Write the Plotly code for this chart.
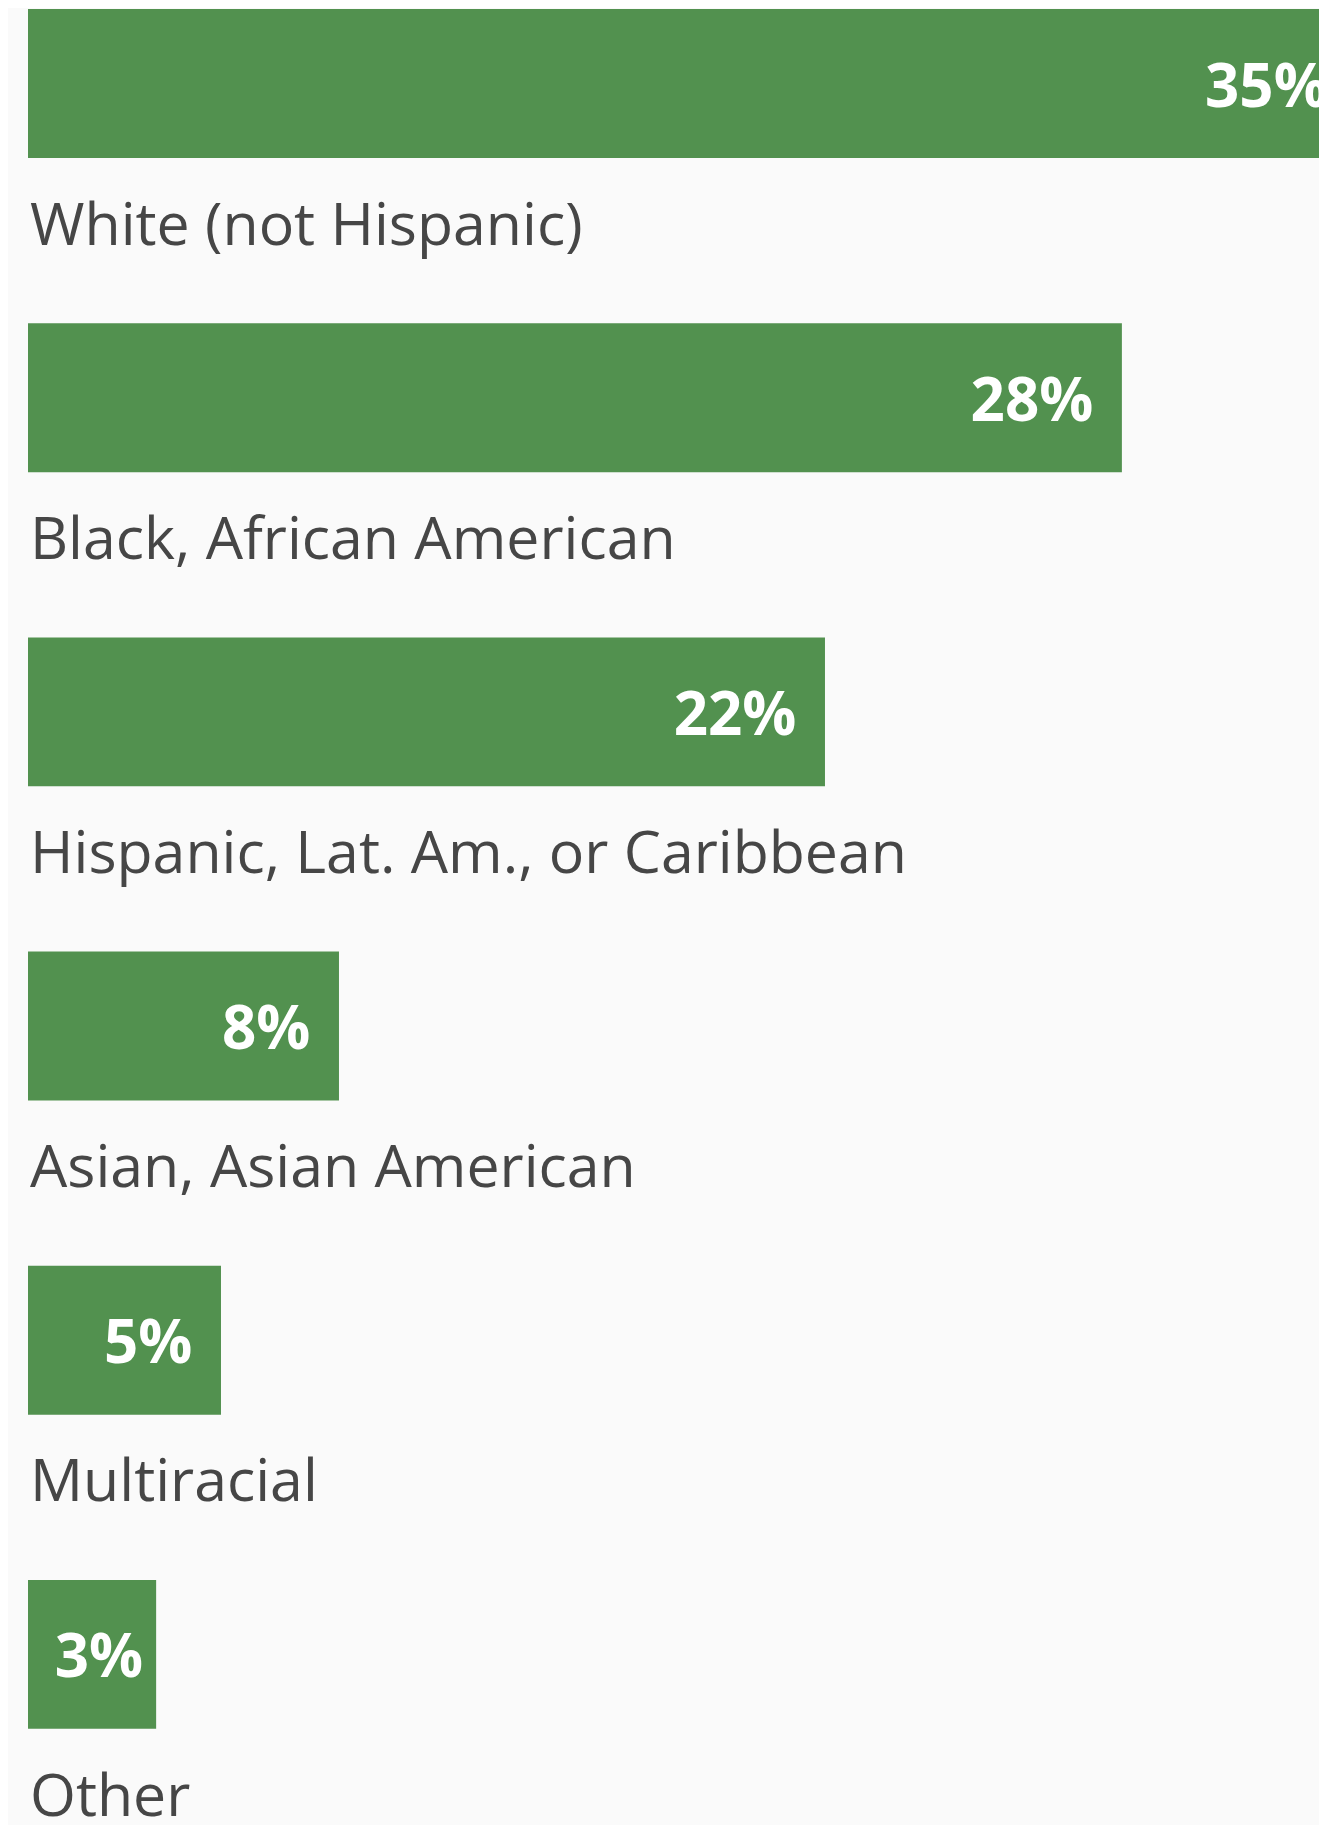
import plotly.graph_objects as go

# Data
categories = [
    "White (not Hispanic)",
    "Black, African American",
    "Hispanic, Lat. Am., or Caribbean",
    "Asian, Asian American",
    "Multiracial",
    "Other",
]
pct_labels = ["35%", "28%", "22%", "8%", "5%", "3%"]
# bar lengths as drawn in the picture (percentage units)
bar_values = [34.0, 28.0, 20.4, 7.96, 4.94, 3.28]

positions = list(range(len(categories)))

GREEN = "#52914f"
TEXT = "#464646"
BG = "#fafafa"

# label padding inside the bar end (the narrowest bar gets less room)
templates = ["%{text}\u00a0\u2006"] * (len(pct_labels) - 1) + ["%{text}\u2006"]

fig = go.Figure()
fig.add_trace(go.Bar(
    x=bar_values,
    y=positions,
    orientation="h",
    width=0.474,
    marker=dict(color=GREEN, line=dict(width=0)),
    text=pct_labels,
    texttemplate=templates,
    textposition="inside",
    insidetextanchor="end",
    insidetextfont=dict(family="Open Sans", size=60, color="white", weight="bold"),
    cliponaxis=True,
    hoverinfo="skip",
))

for i, c in enumerate(categories):
    fig.add_annotation(
        x=0, xref="paper",
        y=positions[i] + 0.44, yref="y",
        text=c, showarrow=False,
        xanchor="left", yanchor="middle",
        font=dict(family="Open Sans", size=59, color=TEXT),
    )

fig.update_layout(
    width=1319, height=1817,
    margin=dict(l=20, r=0, t=0, b=0),
    paper_bgcolor=BG, plot_bgcolor=BG,
    showlegend=False,
    xaxis=dict(range=[0, 33.25], visible=False, fixedrange=True),
    yaxis=dict(range=[5.543, -0.2403], visible=False, fixedrange=True),
)

fig.write_html("out.html", config={"displayModeBar": False})
